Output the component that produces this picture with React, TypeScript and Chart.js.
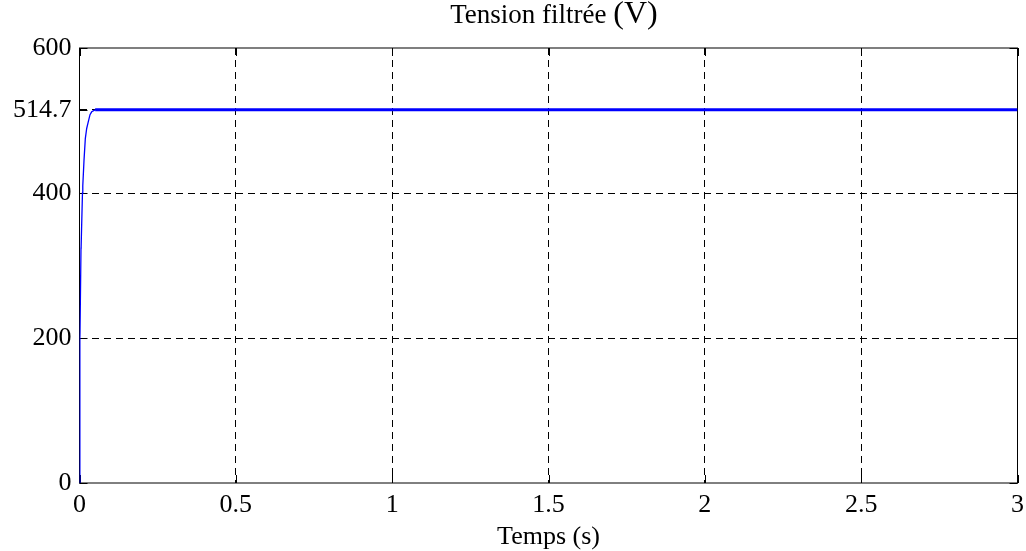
import React, { useEffect, useRef } from "react";
import { Chart, registerables } from "chart.js";

Chart.register(...registerables);

// Filtered DC-link voltage during start-up (time in seconds, voltage in volts)
const timeS = [0, 0.0012, 0.0016, 0.0048, 0.0052, 0.0095, 0.0105, 0.0144, 0.0186, 0.023, 0.028, 0.0336, 0.039, 0.05, 0.06, 3];
const voltage = [0, 200, 208, 324, 326, 400, 410, 445, 475, 489, 498, 508, 512, 514.7, 514.7, 514.7];

const xTicks = [0, 0.5, 1, 1.5, 2, 2.5, 3];
const yTicks = [0, 200, 400, 514.7, 600];

const titleMain = "Tension filtrée ";
const titleUnit = "(V)";
const xTitle = "Temps (s)";

const FONT = "'Liberation Serif', 'Times New Roman', serif";
const TICK_LEN = 8;

// Axes box with inward tick marks on all four sides
const framePlugin = {
  id: "frame",
  beforeDatasetsDraw(chart: any) {
    const { ctx, chartArea: a, scales } = chart;
    ctx.save();
    ctx.setLineDash([]);
    ctx.strokeStyle = "#000";
    ctx.lineWidth = 1;
    ctx.strokeRect(a.left, a.top, a.right - a.left, a.bottom - a.top);
    ctx.beginPath();
    for (const v of xTicks) {
      const x = Math.round(scales.x.getPixelForValue(v)) + 0.5;
      ctx.moveTo(x, a.bottom);
      ctx.lineTo(x, a.bottom - TICK_LEN);
      ctx.moveTo(x, a.top);
      ctx.lineTo(x, a.top + TICK_LEN);
    }
    for (const v of yTicks) {
      const y = Math.round(scales.y.getPixelForValue(v)) + 0.5;
      ctx.moveTo(a.left, y);
      ctx.lineTo(a.left + TICK_LEN, y);
      ctx.moveTo(a.right, y);
      ctx.lineTo(a.right - TICK_LEN, y);
    }
    ctx.stroke();
    ctx.restore();
  },
  afterDraw(chart: any) {
    const { ctx } = chart;
    ctx.save();
    ctx.fillStyle = "#000";
    ctx.textBaseline = "alphabetic";
    ctx.textAlign = "left";
    const mainFont = `27px ${FONT}`;
    const unitFont = `32px ${FONT}`;
    ctx.font = mainFont;
    const wMain = ctx.measureText(titleMain).width;
    ctx.font = unitFont;
    const wUnit = ctx.measureText(titleUnit).width;
    const cx = 554;
    let x = cx - (wMain + wUnit) / 2;
    const baseline = 23;
    ctx.font = mainFont;
    ctx.fillText(titleMain, x, baseline);
    x += wMain;
    ctx.font = unitFont;
    ctx.fillText(titleUnit, x, baseline);
    ctx.restore();
  },
};

export default function App() {
  const canvasRef = useRef<HTMLCanvasElement | null>(null);

  useEffect(() => {
    document.body.style.margin = "0";
    const canvas = canvasRef.current;
    if (!canvas) return;

    const points = timeS.map((t, i) => ({ x: t, y: voltage[i] }));
    const gridColor = (ctx: any) => {
      const v = ctx.tick ? ctx.tick.value : null;
      const s = ctx.scale;
      if (v === null || v === s.min || v === s.max) return "rgba(0,0,0,0)";
      return "#000";
    };

    const chart = new Chart(canvas, {
      type: "line",
      data: {
        datasets: [
          {
            data: points,
            borderColor: "rgb(0,0,255)",
            borderWidth: 1.3,
            pointRadius: 0,
            tension: 0,
            fill: false,
            segment: {
              borderWidth: (c: any) => (c.p0.parsed.x >= 0.05 ? 3 : 1.3),
            },
          },
        ],
      },
      options: {
        responsive: false,
        animation: false,
        layout: { padding: { left: 0, top: 48, right: 8.5, bottom: 0 } },
        plugins: {
          legend: { display: false },
          tooltip: { enabled: false },
          title: { display: false },
        },
        scales: {
          x: {
            type: "linear",
            min: 0,
            max: 3,
            afterBuildTicks: (s: any) => {
              s.ticks = xTicks.map((v) => ({ value: v }));
            },
            afterFit: (s: any) => {
              s.height = 68;
              s.paddingLeft = 0;
              s.paddingRight = 0;
            },
            ticks: {
              color: "#000",
              padding: 7,
              maxRotation: 0,
              autoSkip: false,
              font: { family: FONT, size: 26 },
              callback: (v: any) => String(v),
            },
            grid: { color: gridColor, lineWidth: 1, drawTicks: false },
            border: { display: false, dash: [7, 5] },
            title: {
              display: true,
              text: xTitle,
              color: "#000",
              font: { family: FONT, size: 26, lineHeight: 1 },
              padding: { top: 0, bottom: 1 },
            },
          },
          y: {
            type: "linear",
            min: 0,
            max: 600,
            afterBuildTicks: (s: any) => {
              s.ticks = yTicks.map((v) => ({ value: v }));
            },
            afterFit: (s: any) => {
              s.width = 79.5;
              s.paddingTop = 0;
              s.paddingBottom = 0;
            },
            ticks: {
              color: "#000",
              padding: 8,
              autoSkip: false,
              font: { family: FONT, size: 26 },
              callback: (v: any) => String(v),
            },
            grid: { color: gridColor, lineWidth: 1, drawTicks: false },
            border: { display: false, dash: [7, 5] },
          },
        },
      },
      plugins: [framePlugin],
    });

    return () => chart.destroy();
  }, []);

  return (
    <div style={{ width: 1026, height: 551, background: "#fff" }}>
      <canvas ref={canvasRef} width={1026} height={551} />
    </div>
  );
}
